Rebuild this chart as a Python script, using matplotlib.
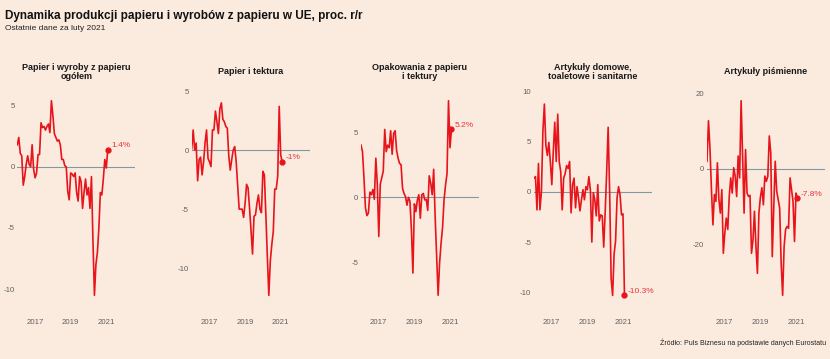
import numpy as np
import matplotlib
matplotlib.use('Agg')
import matplotlib.pyplot as plt

plt.rcParams['font.family'] = ['Liberation Sans', 'DejaVu Sans']

#Monthly data, Jan 2016 - Feb 2021 (62 months).
titles = ['Papier i wyroby z papieru\nogółem', 'Papier i tektura',
          'Opakowania z papieru\ni tektury', 'Artykuły domowe,\ntoaletowe i sanitarne',
          'Artykuły piśmienne']

ogolem = [1.8, 2.4, 1.1, 0.9, -1.5, -0.8, 0.2, 0.9, 0.2, 0.0,
          1.8, -0.2, -0.9, -0.5, 1.0, 1.0, 3.6, 3.2, 3.3, 3.0,
          3.3, 3.5, 2.8, 5.4, 4.2, 2.7, 2.4, 2.1, 2.2, 1.8,
          0.6, 0.6, 0.1, 0.0, -2.0, -2.7, -0.5, -0.6, -0.8, -0.5,
          -2.1, -2.8, -0.8, -1.2, -3.4, -2.1, -1.0, -2.3, -1.7, -3.4,
          -0.8, -6.0, -10.5, -8.0, -7.0, -5.0, -2.1, -2.3, -1.0, 0.6,
          -0.1, 1.4]

tektura = [0.1, 1.7, 0.0, 0.6, -2.6, -0.8, -0.6, -2.1, -1.0, 0.6,
           1.7, -0.7, -1.0, -1.4, 1.7, 1.7, 3.3, 2.4, 1.4, 3.5,
           4.0, 2.6, 2.4, 2.0, 1.85, -0.5, -1.7, -0.8, 0.0, 0.3,
           -1.0, -3.0, -5.0, -5.0, -5.0, -5.7, -4.5, -2.9, -3.2, -4.9,
           -6.8, -8.8, -5.6, -5.5, -4.5, -3.8, -5.0, -5.3, -1.8, -2.1,
           -5.5, -9.0, -12.3, -9.4, -8.0, -6.9, -3.3, -3.3, -2.2, 3.7,
           -0.4, -1.0]

opakowania = [4.0, 3.5, 1.5, -0.8, -1.4, -1.2, 0.4, 0.2, 0.6, -0.15,
              3.0, 1.0, -3.0, 1.0, 1.5, 2.0, 5.2, 3.5, 4.0, 3.8,
              5.1, 3.3, 4.9, 5.1, 3.6, 3.0, 2.6, 2.5, 0.7, 0.3,
              0.05, -0.6, 0.0, -0.3, -2.5, -5.8, -0.5, -1.1, -0.2, 0.2,
              -1.6, 0.2, 0.3, -0.2, -0.15, -1.0, 1.65, 1.1, 0.2, 2.15,
              -1.5, -4.5, -7.5, -5.0, -3.5, -2.3, -0.2, 0.95, 1.8, 7.4,
              3.8, 5.2]

domowe = [1.35, 1.5, -1.8, 2.8, -1.8, 0.0, 6.0, 8.7, 4.6, 3.6,
          4.9, 3.0, 0.7, 4.0, 6.9, 3.0, 7.7, 3.0, 2.0, -1.8,
          1.35, 1.8, 2.6, 2.3, 3.0, -2.1, 0.7, 1.35, -1.6, 0.5,
          -0.6, -1.9, -0.8, 0.2, -0.8, 0.5, 0.2, 1.5, 0.2, -5.0,
          -0.1, -0.8, -2.4, 0.7, -2.9, -2.3, -2.4, -5.5, -2.0, 2.0,
          6.4, 0.0, -8.6, -10.3, -6.2, -4.9, -0.6, 0.5, -0.3, -2.3,
          -2.2, -10.3]

pismienne = [2.0, 12.7, 5.5, -5.5, -14.8, -6.8, -8.6, 1.6, -8.0, -11.7,
             -5.5, -22.3, -17.0, -13.0, -16.0, -7.3, -2.4, -6.4, 0.3, -1.9,
             -7.3, 3.4, -2.4, 18.0, 3.4, -11.7, 5.1, -6.4, -7.3, -7.0,
             -22.3, -18.8, -11.2, -20.5, -27.6, -11.7, -7.5, -5.0, -9.5, -1.9,
             -3.3, -2.0, 8.7, 4.2, -23.2, -10.4, 2.0, -5.9, -8.1, -10.4,
             -25.0, -33.4, -20.5, -16.0, -15.2, -15.7, -2.4, -5.5, -8.6, -19.2,
             -6.4, -7.8]

labels = ['1.4%', '-1%', '5.2%', '-10.3%', '-7.8%']
yticks = [[-10, -5, 0, 5], [-10, -5, 0, 5], [-5, 0, 5], [-10, -5, 0, 5, 10], [-20, 0, 20]]
series = [ogolem, tektura, opakowania, domowe, pismienne]

bg = '#FBEBDF'
red = '#E8141B'

months = 2016 + np.arange(62) / 12

fig = plt.figure(figsize=(8.3, 3.59), dpi=100, facecolor=bg)

lefts = [17.3, 191.7, 361, 534, 707]
for k in range(5):
    ax = fig.add_axes([lefts[k] / 830, 54 / 359, 118 / 830, 214 / 359])
    ax.set_facecolor(bg)
    y = np.array(series[k])
    ax.axhline(0, color='#7F9AA3', lw=0.8, zorder=1)
    ax.plot(months, y, color=red, lw=1.2, zorder=2)
    ax.plot(months[-1], y[-1], 'o', color=red, ms=3.5, zorder=3)
    ax.annotate(labels[k], (months[-1], y[-1]), xytext=(2.5, 3),
                textcoords='offset points', color='#E8333D', fontsize=6,
                va='center', ha='left')
    ax.set_xlim(2016.0, 2022.63)
    ax.margins(y=0.05)
    ax.set_xticks([2017, 2019, 2021])
    ax.set_xticklabels(['2017', '2019', '2021'])
    ax.set_yticks(yticks[k])
    ax.set_yticklabels([str(t) for t in yticks[k]])
    ax.tick_params(length=0, labelsize=5.6, labelcolor='#606060')
    ax.tick_params(axis='x', pad=10)
    ax.tick_params(axis='y', pad=2)
    for s in ax.spines.values():
        s.set_visible(False)
    fig.text((lefts[k] + 59) / 830, 1 - 72 / 359, titles[k], ha='center',
             va='center', fontsize=6.5, fontweight='bold', color='#1A1A1A',
             linespacing=1.1)

fig.text(5 / 830, 1 - 16 / 359, 'Dynamika produkcji papieru i wyrobów z papieru w UE, proc. r/r',
         fontsize=8.5, fontweight='bold', color='#111111', va='center', ha='left')
fig.text(5 / 830, 1 - 28 / 359, 'Ostatnie dane za luty 2021', fontsize=6,
         color='#222222', va='center', ha='left')
fig.text(826 / 830, 1 - 343 / 359, 'Źródło: Puls Biznesu na podstawie danych Eurostatu',
         fontsize=5.0, color='#222222', va='center', ha='right')

plt.savefig('out.png', dpi=100, facecolor=bg)
